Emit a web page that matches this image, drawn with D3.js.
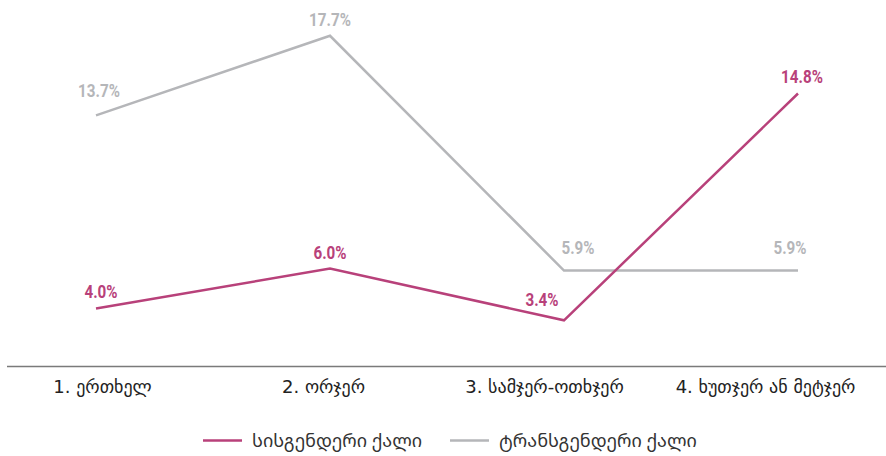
<!DOCTYPE html>
<html>
<head>
<meta charset="utf-8">
<script src="https://cdn.jsdelivr.net/npm/d3@7"></script>
<style>
  html, body { margin: 0; padding: 0; background: #fff; }
  svg { display: block; }
</style>
</head>
<body>
<div id="chart"></div>
<script>
const categories = ['1. ერთხელ', '2. ორჯერ', '3. სამჯერ-ოთხჯერ', '4. ხუთჯერ ან მეტჯერ'];
const seriesNames = ['სისგენდერი ქალი', 'ტრანსგენდერი ქალი'];
const cisValues = [4.0, 6.0, 3.4, 14.8];
const transValues = [13.7, 17.7, 5.9, 5.9];

const width = 886, height = 456;
const colors = ['#b8417a', '#b5b6b9'];

// small nudges so value labels don't collide with the lines
const labelNudge = [
    [[5, -10], [0, -10], [-22, -14], [4, -10]],
    [[3, -18], [0, -10], [14, -17], [-8, -17]]
];

const svg = d3.select('#chart').append('svg')
    .attr('width', width)
    .attr('height', height);

const x = d3.scalePoint()
    .domain(categories)
    .range([96, 798]);

const y = d3.scaleLinear()
    .domain([0, 20])
    .range([388, -10]);

// axis labels sit on their own scale
const xLabel = d3.scalePoint()
    .domain(categories)
    .range([102, 765]);

svg.append('line')
    .attr('x1', 7)
    .attr('x2', width)
    .attr('y1', 366.5)
    .attr('y2', 366.5)
    .attr('stroke', '#7a7a7a')
    .attr('stroke-width', 1.6);

const axis = svg.append('g')
    .attr('transform', 'translate(0,366)')
    .call(d3.axisBottom(xLabel).tickSize(0));

axis.select('.domain').remove();
axis.selectAll('text')
    .attr('y', 27)
    .attr('dy', null)
    .attr('font-family', '"DejaVu Sans", sans-serif')
    .attr('font-size', 18)
    .attr('fill', '#222');

const series = [cisValues, transValues];

const line = d3.line()
    .x((d, i) => x(categories[i]))
    .y(d => y(d));

// grey first so pink draws on top
[1, 0].forEach(function (s) {
    svg.append('path')
        .datum(series[s])
        .attr('d', line)
        .attr('fill', 'none')
        .attr('stroke', colors[s])
        .attr('stroke-width', 2.5);

    svg.append('g').selectAll('text')
        .data(series[s])
        .join('text')
        .attr('transform', (d, i) => 'translate(' + (x(categories[i]) + labelNudge[s][i][0]) + ',' +
            (y(d) + labelNudge[s][i][1]) + ') scale(0.8,1)')
        .attr('text-anchor', 'middle')
        .attr('font-family', 'Roboto, sans-serif')
        .attr('font-weight', 'bold')
        .attr('font-size', 19)
        .attr('fill', colors[s])
        .text(d => d.toFixed(1) + '%');
});

// legend
const legendX = [203, 450];
const legend = svg.append('g').selectAll('g')
    .data(seriesNames)
    .join('g')
    .attr('transform', (d, i) => 'translate(' + legendX[i] + ',440.5)');

legend.append('line')
    .attr('x1', 0)
    .attr('x2', 39)
    .attr('stroke', (d, i) => colors[i])
    .attr('stroke-width', 2.5);

legend.append('text')
    .attr('x', 49)
    .attr('y', 6)
    .attr('font-family', '"Noto Sans Georgian", "DejaVu Sans", sans-serif')
    .attr('font-size', 18)
    .attr('fill', '#333')
    .text(d => d);
</script>
</body>
</html>
